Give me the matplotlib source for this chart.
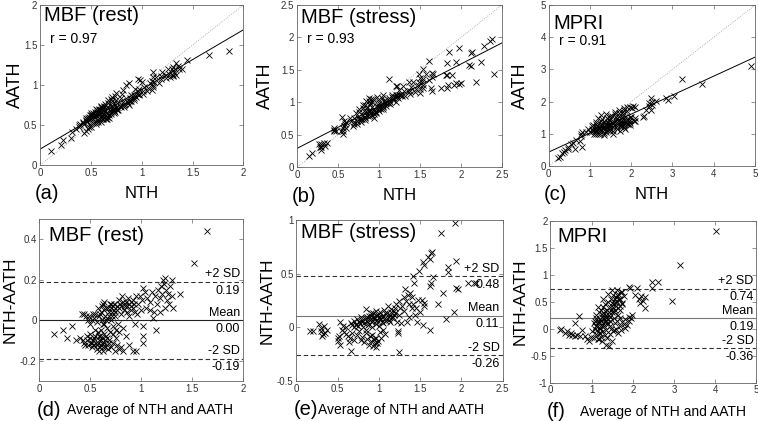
import numpy as np
import matplotlib
matplotlib.use('Agg')
from matplotlib import pyplot as plt
from matplotlib.ticker import FuncFormatter

plt.rcParams['font.family'] = ['Liberation Sans', 'DejaVu Sans']

# Bland-Altman coordinates (d)-(f):
# x = average of NTH and AATH, y = NTH - AATH
rest_avg = [0.14, 0.23, 0.27, 0.32, 0.36, 0.40, 0.42, 0.44, 0.43, 0.45,
            0.47, 0.48, 0.50, 0.51, 0.52, 0.53, 0.54, 0.55, 0.56, 0.57,
            0.58, 0.59, 0.60, 0.61, 0.62, 0.63, 0.64, 0.65, 0.66, 0.67,
            0.68, 0.70, 0.72, 0.74, 0.76, 0.78, 0.80, 0.57, 0.60, 0.63,
            0.66, 0.69, 0.72, 0.75, 0.55, 0.82, 0.92, 0.95, 0.58, 0.61,
            0.46, 0.48, 0.50, 0.52, 0.54, 0.55, 0.56, 0.58, 0.60, 0.61,
            0.62, 0.63, 0.64, 0.65, 0.66, 0.68, 0.70, 0.57, 0.53, 0.49,
            0.59, 0.63, 0.65, 0.68, 0.71, 0.73, 0.76, 0.79, 0.82, 0.85,
            0.88, 0.90, 0.92, 0.94, 0.96, 0.70, 0.72, 0.74, 0.77, 0.80,
            0.83, 0.86, 0.88, 0.78, 0.81, 0.87, 0.92, 0.95, 0.73, 0.75,
            0.78, 0.82, 0.85, 0.88, 0.94, 1.02, 1.02, 1.14, 1.11, 1.02,
            0.97, 0.99, 1.01, 1.02, 1.04, 1.05, 1.06, 1.08, 1.10, 1.12,
            1.13, 1.15, 1.16, 1.18, 1.19, 1.20, 1.21, 1.22, 1.23, 1.24,
            1.25, 1.26, 1.27, 1.28, 1.30, 1.30, 1.31, 1.38, 1.52, 1.64,
            1.08, 1.18, 1.00, 1.23, 0.84, 0.90,
            0.50, 0.52, 0.54, 0.56, 0.58, 0.60, 0.62, 0.64, 0.66, 0.68,
            0.70, 0.72, 0.74, 0.76, 0.78, 0.80, 0.84, 0.86, 0.90, 0.93,
            0.59, 0.61, 0.63, 0.67, 0.69, 0.71, 0.53, 0.47, 0.44, 0.62]
rest_diff = [-0.07, -0.05, -0.09, -0.03, -0.10, -0.09, 0.03, 0.03, -0.10, -0.12,
             -0.10, -0.12, -0.09, -0.11, -0.13, -0.10, -0.12, -0.08, -0.14, -0.11,
             -0.10, -0.13, -0.12, -0.09, -0.15, -0.11, -0.13, -0.08, -0.12, -0.14,
             -0.10, -0.13, -0.11, -0.15, -0.12, -0.14, -0.13, -0.06, -0.05, -0.07,
             -0.04, -0.06, -0.07, -0.09, -0.05, -0.15, -0.15, -0.15, -0.15, -0.11,
             0.02, 0.00, -0.02, 0.00, 0.01, 0.03, -0.01, 0.02, 0.04, 0.07,
             0.08, 0.05, 0.02, 0.06, 0.01, 0.04, 0.08, 0.06, 0.03, 0.02,
             -0.08, -0.02, 0.00, 0.02, 0.04, 0.05, 0.07, 0.08, 0.09, 0.09,
             0.08, 0.07, 0.06, 0.04, 0.03, 0.00, -0.03, 0.02, -0.02, 0.03,
             0.05, 0.04, 0.02, 0.10, 0.12, 0.11, 0.10, 0.12, 0.08, -0.05,
             -0.06, -0.04, -0.08, -0.12, -0.02, -0.08, -0.11, -0.05, 0.01, -0.03,
             0.08, 0.12, 0.10, 0.16, 0.14, 0.06, 0.11, 0.09, 0.14, 0.04,
             0.12, 0.08, 0.15, 0.11, 0.17, 0.13, 0.20, 0.18, 0.21, 0.15,
             0.10, 0.13, 0.08, 0.17, 0.20, 0.12, 0.06, 0.13, 0.28, 0.44,
             0.05, 0.04, 0.05, 0.06, 0.07, 0.09,
             -0.07, -0.11, -0.09, -0.12, -0.08, -0.10, -0.13, -0.10, -0.09, -0.11,
             0.06, 0.07, 0.04, 0.05, 0.06, 0.07, 0.08, 0.07, 0.05, 0.08,
             0.03, 0.00, 0.09, 0.06, 0.08, 0.02, -0.12, -0.08, -0.11, -0.02]

stress_avg = [0.16, 0.20, 0.28, 0.30, 0.31, 0.32, 0.35, 0.37, 0.30, 0.33,
              0.50, 0.51, 0.53, 0.52, 0.53, 0.55, 0.58, 0.56, 0.60, 0.66,
              0.66, 0.68, 0.70, 0.72, 0.74, 0.76, 0.78, 0.80, 0.82, 0.84,
              0.85, 0.86, 0.88, 0.90, 0.92, 0.93, 0.95, 0.96, 0.98, 1.00,
              1.02, 1.03, 1.05, 1.06, 1.08, 1.10, 1.11, 1.12, 1.14, 1.15,
              1.17, 1.18, 1.20, 1.21, 0.70, 0.75, 0.90, 0.97, 1.04, 0.88,
              0.62, 0.65, 0.68, 0.70, 0.73, 0.76, 0.78, 0.80, 0.82, 0.84,
              0.86, 0.88, 0.90, 0.92, 0.93, 0.95, 0.96, 0.97, 0.99, 1.01,
              1.03, 1.05, 1.08, 0.60, 0.64,
              1.22, 1.24, 1.25, 1.26, 1.28, 1.30, 1.31, 1.32, 1.33, 1.35,
              1.36, 1.37, 1.38, 1.40, 1.40, 1.42, 1.44, 1.45, 1.46, 1.48,
              1.50, 1.52, 1.55, 1.55, 1.34, 1.27,
              1.24, 1.23, 1.23, 1.41, 1.43, 1.49, 1.53, 1.55, 1.59, 1.62,
              1.63, 1.65, 1.66, 1.63, 1.62, 1.75, 1.92, 1.84, 1.84, 1.93,
              1.94, 1.96, 2.08, 2.15, 2.18, 1.78, 1.72, 1.91, 1.82, 1.53, 1.62,
              0.80, 0.83, 0.86, 0.89, 0.91, 0.94, 0.97, 0.99, 1.01, 1.04,
              1.07, 1.09, 1.12, 1.15, 1.18, 0.87, 0.92, 0.96, 1.00, 1.05,
              0.72, 0.77, 0.81, 0.85, 0.89, 0.94, 0.98, 1.13, 1.16, 1.19]
stress_diff = [-0.03, -0.03, 0.03, -0.01, -0.08, -0.065, -0.05, -0.02, -0.03, 0.01,
               -0.10, -0.13, -0.16, -0.08, 0.05, -0.02, -0.04, 0.01, -0.06, -0.22,
               0.04, 0.02, 0.06, 0.03, 0.08, 0.05, 0.10, 0.07, 0.04, 0.09,
               0.17, 0.06, 0.11, 0.08, 0.05, 0.13, 0.09, 0.12, 0.07, 0.10,
               0.14, 0.08, 0.11, 0.16, 0.09, 0.13, 0.20, 0.07, 0.12, 0.17,
               0.10, 0.15, 0.13, 0.22, 0.00, 0.01, 0.13, 0.15, 0.05, 0.03,
               -0.08, -0.10, -0.05, -0.12, -0.07, -0.03, -0.12, -0.09, -0.14, -0.05,
               -0.11, -0.16, -0.13, -0.07, -0.17, -0.15, -0.10, -0.18, -0.13, -0.04,
               -0.10, -0.02, -0.06, 0.00, -0.14,
               0.05, 0.12, 0.25, 0.18, 0.20, 0.28, 0.15, 0.36, 0.25, 0.30,
               0.10, 0.22, 0.32, 0.18, 0.28, 0.22, 0.12, 0.18, 0.05, 0.26,
               0.14, 0.26, 0.20, 0.23, 0.05, 0.04,
               -0.23, -0.03, -0.05, 0.48, 0.41, 0.53, 0.61, 0.58, 0.66, 0.64,
               0.69, 0.70, 0.47, 0.41, 0.39, 0.88, 0.97, 0.56, 0.52, 0.62,
               0.37, 0.36, 0.41, 0.41, 0.41, 0.32, 0.22, 0.14, 0.08, 0.02, -0.02,
               0.05, 0.08, 0.10, 0.07, 0.11, 0.09, 0.06, 0.12, 0.08, 0.10,
               0.13, 0.06, 0.10, 0.14, 0.12, 0.02, 0.00, 0.03, 0.01, 0.04,
               0.02, 0.04, 0.00, -0.02, -0.08, -0.11, -0.15, 0.05, 0.09, 0.18]

mpri_avg = [0.24, 0.27, 0.36, 0.45, 0.53, 0.61, 0.65, 0.73, 0.59, 0.70,
            0.77, 0.85, 0.89, 0.93, 0.50, 0.40,
            0.98, 1.02, 1.05, 1.08, 1.10, 1.12, 1.15, 1.18, 1.20, 1.22,
            1.25, 1.28, 1.30, 1.32, 1.34, 1.36, 1.38, 1.40, 1.42, 1.45,
            1.48, 1.50, 1.52, 1.18,
            1.05, 1.08, 1.10, 1.12, 1.15, 1.18, 1.20, 1.22, 1.25, 1.28,
            1.30, 1.32, 1.35, 1.38, 1.40, 1.42, 1.45, 1.48, 1.50, 1.52,
            1.55, 1.58, 1.60, 1.62, 1.65, 1.68, 1.70, 1.72, 1.75, 1.78,
            1.50, 1.62, 1.74, 1.25, 1.35, 1.45, 1.55, 1.15, 1.28, 1.40,
            1.55, 1.58, 1.60, 1.62, 1.65, 1.68, 1.70, 1.72, 1.75, 1.78,
            1.80, 1.82, 1.86, 1.90, 1.92, 1.97, 1.95, 1.65,
            1.90, 1.94, 2.11, 2.05, 2.15, 2.20, 2.25, 2.18, 2.29, 2.47,
            2.60, 2.47, 2.96, 3.14, 4.01, 2.30,
            1.10, 1.13, 1.16, 1.19, 1.21, 1.24, 1.27, 1.30, 1.33, 1.36,
            1.39, 1.42, 1.45, 1.48, 1.51, 1.54, 1.57, 1.60, 1.63, 1.66,
            1.20, 1.26, 1.32, 1.38, 1.44, 1.50, 1.56, 1.62, 1.68, 1.74]
mpri_diff = [-0.02, 0.00, -0.08, -0.11, -0.11, -0.14, -0.12, -0.14, 0.10, 0.23,
             -0.02, -0.14, -0.20, -0.23, -0.08, -0.05,
             -0.15, -0.05, -0.18, 0.00, -0.10, 0.05, -0.20, -0.08, 0.02, -0.15,
             -0.22, -0.05, 0.05, -0.12, -0.30, -0.02, -0.18, 0.08, -0.33, -0.10,
             0.00, -0.23, -0.05, -0.20,
             0.10, 0.15, 0.20, 0.25, 0.12, 0.30, 0.18, 0.35, 0.22, 0.40,
             0.28, 0.45, 0.15, 0.35, 0.50, 0.25, 0.40, 0.55, 0.30, 0.62,
             0.45, 0.35, 0.58, 0.50, 0.65, 0.42, 0.55, 0.68, 0.48, 0.60,
             0.72, 0.72, 0.68, 0.05, 0.20, 0.15, 0.20, 0.40, 0.55, 0.65,
             -0.02, 0.10, 0.00, 0.15, -0.08, 0.05, 0.20, -0.02, 0.12, 0.08,
             0.18, 0.02, 0.07, 0.14, 0.22, 0.26, 0.20, 0.25,
             0.77, 0.75, 0.75, 0.62, 0.55, 0.60, 0.52, 0.48, 0.38, 0.86,
             0.86, 0.75, 0.52, 1.17, 1.81, 0.58,
             0.05, -0.02, 0.08, 0.12, 0.00, 0.15, 0.10, 0.20, 0.12, 0.25,
             0.18, 0.30, 0.22, 0.35, 0.40, 0.30, 0.50, 0.42, 0.38, 0.55,
             -0.08, 0.28, 0.32, 0.10, 0.05, 0.48, 0.55, 0.62, 0.35, 0.45]

titles = ['MBF (rest)', 'MBF (stress)', 'MPRI']
r_values = ['r = 0.97', 'r = 0.93', 'r = 0.91']
# regression lines (slope, intercept)
fit_lines = [(0.745, 0.20), (0.65, 0.29), (0.59, 0.43)]
# Bland-Altman: mean, +2SD, -2SD
ba_lines = [(0.00, 0.19, -0.19), (0.11, 0.48, -0.26), (0.19, 0.74, -0.36)]
ba_labels = [('0.00', '0.19', '-0.19'), ('0.11', '0.48', '-0.26'), ('0.19', '0.74', '-0.36')]

top_lims = [2, 2.5, 5]
top_ticks = [np.arange(0, 2.01, 0.5), np.arange(0, 2.51, 0.5), np.arange(0, 5.1, 1)]
ba_ylims = [(-0.3, 0.5), (-0.5, 1.0), (-1.0, 2.0)]
ba_yticks = [[-0.2, 0, 0.2, 0.4], [-0.5, 0, 0.5, 1], np.arange(-1, 2.01, 0.5)]

top_pos = [[0.053, 0.608, 0.268, 0.380], [0.392, 0.603, 0.270, 0.385], [0.724, 0.606, 0.272, 0.382]]
bot_pos = [[0.052, 0.095, 0.269, 0.385], [0.391, 0.095, 0.272, 0.382], [0.726, 0.091, 0.272, 0.385]]
top_letters = ['(a)', '(b)', '(c)']
bot_letters = ['(d)', '(e)', '(f)']
title_y_top = [0.935, 0.925, 0.885]
r_y_top = [0.79, 0.79, 0.775]
title_x_bot = [0.045, 0.02, 0.035]
title_y_bot = [0.895, 0.925, 0.905]
avg_x = [0.137, 0.107, 0.146]
ylab_x_top = [-0.123, -0.156, -0.136]
ylab_x_bot = [-0.142, -0.14, -0.146]
mean_colors = ['#222222', '#777777', '#777777']

datasets = [(rest_avg, rest_diff), (stress_avg, stress_diff), (mpri_avg, mpri_diff)]

fmt = FuncFormatter(lambda v, p: '%g' % round(v, 3))


def style(ax):
    for s in ax.spines.values():
        s.set_color('#666666')
        s.set_linewidth(0.6)
    ax.tick_params(direction='in', top=True, right=True, length=3, width=0.5,
                   color='#666666', labelsize=7, labelcolor='#333333', pad=2)
    ax.xaxis.set_major_formatter(fmt)
    ax.yaxis.set_major_formatter(fmt)


fig = plt.figure(figsize=(7.58, 4.21), dpi=100)

for i, (avg, diff) in enumerate(datasets):
    avg = np.array(avg)
    diff = np.array(diff)
    nth = avg + diff / 2
    aath = avg - diff / 2

    # top row: AATH vs NTH
    ax = fig.add_axes(top_pos[i])
    lim = top_lims[i]
    ax.plot([0, lim], [0, lim], ':', color='#999999', lw=0.6)
    slope, icpt = fit_lines[i]
    xs = np.array([0, lim])
    ax.plot(xs, icpt + slope * xs, '-', color='black', lw=0.7)
    ax.plot(nth, aath, 'x', color='black', ms=4, mew=0.6)
    ax.set_xlim(0, lim)
    ax.set_ylim(0, lim)
    ax.set_xticks(top_ticks[i])
    ax.set_yticks(top_ticks[i])
    style(ax)
    ax.text(0.02, title_y_top[i], titles[i], transform=ax.transAxes, fontsize=14.5, va='center')
    ax.text(0.05, r_y_top[i], r_values[i], transform=ax.transAxes, fontsize=10, va='center')
    ax.text(0.5, -0.175, 'NTH', transform=ax.transAxes, fontsize=12, ha='center', va='center')
    ax.text(-0.025, -0.18, top_letters[i], transform=ax.transAxes, fontsize=14.5, ha='left', va='center')
    ax.text(ylab_x_top[i], 0.5, 'AATH', transform=ax.transAxes, fontsize=13, rotation=90,
            ha='center', va='center')

    # bottom row: Bland-Altman
    ax = fig.add_axes(bot_pos[i])
    m, hi, lo = ba_lines[i]
    ax.axhline(m, color=mean_colors[i], lw=0.8)
    ax.axhline(hi, color='#333333', lw=0.8, ls=(0, (4, 2.5)))
    ax.axhline(lo, color='#333333', lw=0.8, ls=(0, (4, 2.5)))
    ax.plot(avg, diff, 'x', color='black', ms=4, mew=0.6)
    ax.set_xlim(0, lim)
    ax.set_ylim(*ba_ylims[i])
    ax.set_xticks(top_ticks[i])
    ax.set_yticks(ba_yticks[i])
    style(ax)
    tr = ax.get_yaxis_transform()
    lm, lh, ll = ba_labels[i]
    for y, head, val in [(hi, '+2 SD', lh), (m, 'Mean', lm), (lo, '-2 SD', ll)]:
        ax.annotate(head, (0.985, y), xycoords=tr, xytext=(0, 1), textcoords='offset points',
                    ha='right', va='bottom', fontsize=9)
        ax.annotate(val, (0.985, y), xycoords=tr, xytext=(0, -2), textcoords='offset points',
                    ha='right', va='top', fontsize=9)
    ax.text(title_x_bot[i], title_y_bot[i], titles[i], transform=ax.transAxes, fontsize=14.5, va='center')
    ax.text(avg_x[i], -0.18, 'Average of NTH and AATH', transform=ax.transAxes, fontsize=10,
            ha='left', va='center')
    ax.text(-0.015, -0.18, bot_letters[i], transform=ax.transAxes, fontsize=14.5, ha='left', va='center')
    ax.text(ylab_x_bot[i], 0.5, 'NTH-AATH', transform=ax.transAxes, fontsize=12.5, rotation=90,
            ha='center', va='center')

fig.savefig('out.png', dpi=100)
